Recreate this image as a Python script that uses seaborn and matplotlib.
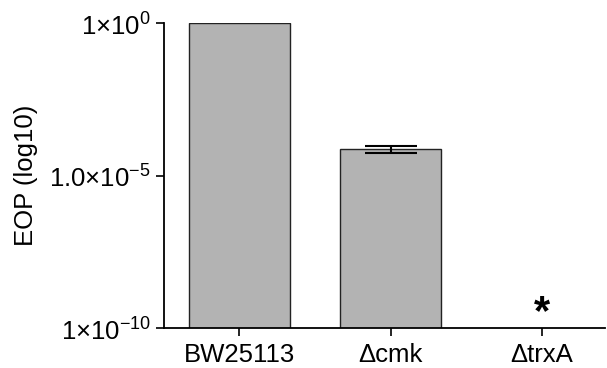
import matplotlib
matplotlib.use("Agg")
import matplotlib.pyplot as plt
import numpy as np
import pandas as pd
import seaborn as sns

strains = ["BW25113", "\u0394cmk", "\u0394trxA"]
eop = [1.0, 7.4e-5, np.nan]
eop_err = [0.0, 2.0e-5, np.nan]
ytick_vals = [1e-10, 1e-5, 1e0]
ytick_labels = [r"1$\times$10$^{-10}$", r"1.0$\times$10$^{-5}$", r"1$\times$10$^{0}$"]

sns.set_style("ticks")
plt.rcParams["font.family"] = ["Liberation Sans", "DejaVu Sans"]
plt.rcParams["mathtext.fontset"] = "custom"
plt.rcParams["mathtext.rm"] = "Liberation Sans"
plt.rcParams["text.color"] = "black"
plt.rcParams["axes.labelcolor"] = "black"
plt.rcParams["xtick.color"] = "black"
plt.rcParams["ytick.color"] = "black"

df = pd.DataFrame({"strain": strains, "eop": eop})

fig = plt.figure(figsize=(6.07, 3.68), dpi=100)
ax = fig.add_axes([0.270, 0.109, 0.727, 0.828])
ax.set_yscale("log")
sns.barplot(data=df, x="strain", y="eop", color="#b3b3b3", saturation=1,
            edgecolor="#222222", linewidth=1, width=0.67, ax=ax)
ax.errorbar([1], [eop[1]], yerr=[eop_err[1]], fmt="none", ecolor="black",
            elinewidth=1.5, capsize=18.5, capthick=1.5)
ax.text(2, 3.0e-10, "*", ha="center", va="center", fontsize=30, fontweight="bold")

ax.set_ylim(1e-10, 1e0)
ax.set_xlim(-0.5, 2.42)
ax.set_yticks(ytick_vals)
ax.set_yticklabels(ytick_labels)
ax.yaxis.set_minor_locator(matplotlib.ticker.NullLocator())
ax.tick_params(axis="both", labelsize=18.5, length=6, width=1.2, color="black",
               labelcolor="black")
ax.tick_params(axis="x", pad=5)
ax.set_xlabel("")
ax.set_ylabel("EOP (log10)", fontsize=18.5, labelpad=8)
for s in ["left", "bottom"]:
    ax.spines[s].set_linewidth(1.3)
    ax.spines[s].set_color("black")
sns.despine(ax=ax)

fig.savefig("out.png", dpi=100)
